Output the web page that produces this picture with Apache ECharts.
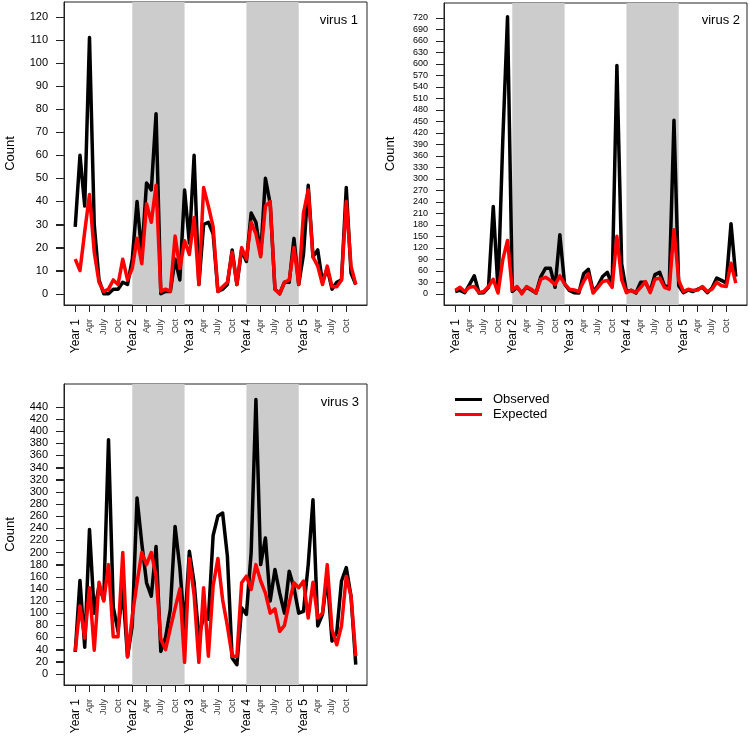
<!DOCTYPE html>
<html>
<head>
<meta charset="utf-8">
<script src="https://cdn.jsdelivr.net/npm/echarts@6/dist/echarts.min.js"></script>
<style>
html, body { margin: 0; padding: 0; background: #fff; }
#result { width: 750px; height: 740px; }
</style>
</head>
<body>
<div id="result"></div>
<script>
// ---- 数据 ----
var xTickValues = [0, 3, 6, 9, 12, 15, 18, 21, 24, 27, 30, 33, 36, 39, 42, 45, 48, 51, 54, 57];
var xTickLabels = ['Year 1', 'Apr', 'July', 'Oct', 'Year 2', 'Apr', 'July', 'Oct', 'Year 3', 'Apr', 'July', 'Oct',
                   'Year 4', 'Apr', 'July', 'Oct', 'Year 5', 'Apr', 'July', 'Oct'];

var yTicks1 = [0, 10, 20, 30, 40, 50, 60, 70, 80, 90, 100, 110, 120];
var yTicks2 = [0, 30, 60, 90, 120, 150, 180, 210, 240, 270, 300, 330, 360, 390, 420, 450, 480, 510, 540, 570, 600, 630, 660, 690, 720];
var yTicks3 = [0, 20, 40, 60, 80, 100, 120, 140, 160, 180, 200, 220, 240, 260, 280, 300, 320, 340, 360, 380, 400, 420, 440];

// shaded years (month index from/to)
var shadeYears = [[12, 23], [36, 47]];

var virus1Observed = [29, 60, 38, 111, 30, 6, 0, 0, 2, 2, 5, 4,
                      15, 40, 17, 48, 45, 78, 0, 1, 1, 15, 6, 45,
                      22, 60, 4, 30, 31, 26, 1, 2, 4, 19, 4, 19,
                      14, 35, 31, 17, 50, 39, 2, 0, 5, 5, 24, 4,
                      17, 47, 16, 19, 5, 11, 2, 5, 6, 46, 9, 4];
var virus1Expected = [15, 10, 27, 43, 18, 5, 1, 2, 6, 4, 15, 6,
                      11, 24, 13, 39, 31, 47, 1, 2, 1, 25, 11, 23,
                      17, 33, 4, 46, 38, 29, 1, 3, 5, 18, 4, 20,
                      15, 31, 26, 16, 38, 40, 2, 0, 5, 6, 20, 4,
                      35, 45, 16, 12, 4, 12, 3, 3, 6, 40, 12, 4];

var virus2Observed = [6, 9, 3, 24, 47, 2, 3, 17, 228, 10, 400, 723,
                      6, 17, 3, 17, 10, 2, 45, 67, 67, 17, 154, 26,
                      9, 3, 2, 52, 64, 6, 21, 45, 56, 21, 596, 78,
                      6, 9, 2, 30, 30, 6, 50, 56, 21, 17, 453, 21,
                      3, 10, 6, 12, 17, 3, 15, 41, 35, 28, 183, 45];
var virus2Expected = [9, 17, 6, 17, 19, 3, 6, 19, 38, 2, 89, 139,
                      10, 19, 0, 19, 12, 2, 38, 43, 35, 24, 47, 26,
                      12, 10, 6, 32, 52, 2, 17, 32, 35, 17, 150, 37,
                      3, 9, 3, 17, 32, 3, 38, 41, 17, 12, 167, 35,
                      6, 12, 9, 10, 19, 6, 12, 30, 21, 19, 80, 28];

var virus3Observed = [36, 154, 44, 238, 100, 145, 122, 386, 110, 70, 140, 28,
                      80, 290, 215, 150, 128, 210, 37, 60, 106, 243, 175, 75,
                      202, 150, 60, 95, 90, 228, 260, 265, 194, 26, 15, 109,
                      98, 200, 452, 180, 224, 120, 172, 133, 100, 169, 142, 100,
                      103, 180, 287, 79, 98, 160, 54, 68, 153, 175, 128, 15];
var virus3Expected = [37, 112, 59, 142, 39, 151, 120, 180, 61, 61, 200, 28,
                      95, 150, 200, 180, 200, 161, 57, 40, 75, 108, 140, 19,
                      190, 130, 19, 142, 29, 145, 190, 122, 79, 29, 29, 150,
                      161, 139, 180, 153, 133, 100, 107, 70, 80, 117, 150, 142,
                      153, 92, 151, 92, 100, 180, 73, 48, 79, 161, 128, 29];

var panels = [
    { name: 'virus 1', obs: virus1Observed, exp: virus1Expected, ticks: yTicks1, min: -4.86, max: 126.4, fontSize: 11 },
    { name: 'virus 2', obs: virus2Observed, exp: virus2Expected, ticks: yTicks2, min: -29.2, max: 758.8, fontSize: 9 },
    { name: 'virus 3', obs: virus3Observed, exp: virus3Expected, ticks: yTicks3, min: -18.4, max: 477.7, fontSize: 11 }
];

// ---- 布局 ----
var grids = [
    { left: 64, top: 2, width: 303, height: 303 },
    { left: 444, top: 3, width: 303, height: 302 },
    { left: 64, top: 384, width: 303, height: 301 }
];
var titlePos = [
    { right: 392, top: 14 },
    { right: 10, top: 14 },
    { right: 391, top: 396 }
];

function toPoints(arr) {
    return arr.map(function (v, i) { return [i, v]; });
}

var FONT = 'Liberation Sans, Arial, sans-serif';
var AXIS_COLOR = '#222';
var Y_TICK_LEN = 8;

// y 轴刻度线（用 custom series 画在网格左边框外侧）
function renderYTick(params, api) {
    var pt = api.coord([api.value(0), api.value(1)]);
    var left = params.coordSys.x;
    var y = Math.round(pt[1]) + 0.5;
    return {
        type: 'line',
        shape: { x1: left - Y_TICK_LEN, y1: y, x2: left, y2: y },
        style: { stroke: AXIS_COLOR, lineWidth: 1 }
    };
}

var option = {
    animation: false,
    backgroundColor: '#fff',
    textStyle: { fontFamily: FONT },
    title: [],
    legend: {
        data: ['Observed', 'Expected'],
        orient: 'vertical',
        left: 455,
        top: 392,
        padding: 0,
        icon: 'rect',
        itemWidth: 27,
        itemHeight: 3,
        itemGap: 0,
        textStyle: { fontSize: 13, color: '#000', lineHeight: 15, padding: [0, 0, 0, 6], fontFamily: FONT }
    },
    grid: [],
    xAxis: [],
    yAxis: [],
    series: []
};

panels.forEach(function (p, k) {
    option.title.push({
        text: p.name,
        right: titlePos[k].right,
        top: titlePos[k].top,
        padding: 0,
        textStyle: { fontSize: 13, fontWeight: 'normal', color: '#000', fontFamily: FONT }
    });
    option.grid.push({
        left: grids[k].left, top: grids[k].top, width: grids[k].width, height: grids[k].height,
        show: true, borderColor: AXIS_COLOR, borderWidth: 1, backgroundColor: 'transparent'
    });
    option.xAxis.push({
        type: 'value',
        gridIndex: k,
        position: 'bottom',
        min: -2.36,
        max: 61.36,
        axisLine: { show: true, onZero: false, lineStyle: { color: AXIS_COLOR, width: 1 } },
        splitLine: { show: false },
        axisTick: { show: true, inside: false, length: 7, customValues: xTickValues, lineStyle: { color: AXIS_COLOR, width: 1 } },
        axisLabel: {
            customValues: xTickValues,
            rotate: 90,
            margin: 14,
            formatter: function (v) {
                var lab = xTickLabels[xTickValues.indexOf(Math.round(v))];
                if (lab === undefined) return '';
                return lab.indexOf('Year') === 0 ? '{y|' + lab + '}' : '{m|' + lab + '}';
            },
            rich: {
                y: { fontSize: 12, color: '#000', fontFamily: FONT },
                m: { fontSize: 9, color: '#333', fontFamily: FONT }
            }
        }
    });
    option.yAxis.push({
        type: 'value',
        gridIndex: k,
        position: 'left',
        min: p.min,
        max: p.max,
        name: 'Count',
        nameLocation: 'middle',
        nameRotate: 90,
        nameGap: 47,
        nameTextStyle: { fontSize: 13, color: '#000', fontFamily: FONT },
        axisLine: { show: true, onZero: false, lineStyle: { color: AXIS_COLOR, width: 1 } },
        splitLine: { show: false },
        axisTick: { show: true, inside: false, length: Y_TICK_LEN, customValues: p.ticks, lineStyle: { color: AXIS_COLOR, width: 1 } },
        axisLabel: { customValues: p.ticks, margin: 16, fontSize: p.fontSize, color: '#000', fontFamily: FONT }
    });
    // 灰色阴影年份
    option.series.push({
        type: 'line',
        xAxisIndex: k,
        yAxisIndex: k,
        data: [],
        z: 1,
        silent: true,
        markArea: {
            silent: true,
            itemStyle: { color: '#cccccc' },
            data: shadeYears.map(function (s) { return [{ xAxis: s[0] }, { xAxis: s[1] }]; })
        }
    });
    // y 轴刻度
    option.series.push({
        type: 'custom',
        xAxisIndex: k,
        yAxisIndex: k,
        silent: true,
        clip: false,
        z: 5,
        renderItem: renderYTick,
        data: p.ticks.map(function (v) { return [0, v]; })
    });
    option.series.push({
        name: 'Observed',
        type: 'line',
        xAxisIndex: k,
        yAxisIndex: k,
        z: 3,
        showSymbol: false,
        color: '#000000',
        itemStyle: { color: '#000000' },
        lineStyle: { color: '#000000', width: 3.5, join: 'round' },
        data: toPoints(p.obs)
    });
    option.series.push({
        name: 'Expected',
        type: 'line',
        xAxisIndex: k,
        yAxisIndex: k,
        z: 4,
        showSymbol: false,
        color: '#ff0000',
        itemStyle: { color: '#ff0000' },
        lineStyle: { color: '#ff0000', width: 3.5, join: 'round' },
        data: toPoints(p.exp)
    });
});

var myResult = echarts.init(document.getElementById('result'));
myResult.setOption(option);
</script>
</body>
</html>
